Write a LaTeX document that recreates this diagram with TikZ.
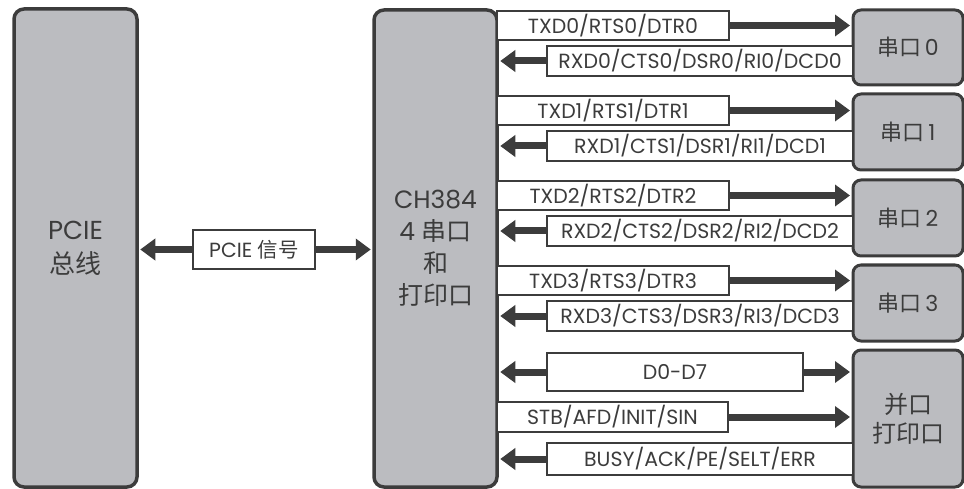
\documentclass[tikz,border=0pt]{standalone}
\usepackage{fontspec}
\setmainfont{Poppins}
\newfontfamily\cjk{Noto Sans CJK SC}
\usetikzlibrary{arrows.meta}
\definecolor{boxfill}{HTML}{BBBCC0}
\definecolor{ink}{HTML}{3C3C3C}
\tikzset{
  bigbox/.style={draw=ink, fill=boxfill, line width=3.5pt, rounded corners=10pt, text=ink, align=center, inner sep=0pt},
  portbox/.style={bigbox, line width=3pt, rounded corners=8pt, font=\fontsize{22}{28}\selectfont},
  sig/.style={draw=ink, line width=1.8pt, fill=white, inner sep=0pt, text=ink, font=\fontsize{20.5}{22}\selectfont},
  arr/.style={draw=ink, line width=7pt, -{Triangle[length=15pt,width=21pt]}, shorten >=1.5pt},
}
\begin{document}
\begin{tikzpicture}[x=1pt,y=-1pt]
\useasboundingbox (0,0) rectangle (964,489);
% main blocks
\node[bigbox, minimum width=123pt, minimum height=478pt, font=\fontsize{26}{34}\selectfont] (pcie) at (75.5,248) {PCIE\\{\cjk 总线}};
\node[bigbox, minimum width=123pt, minimum height=477pt, font=\fontsize{25}{32}\selectfont] (ch) at (435.5,248.5) {CH384\\4 {\cjk 串口}\\{\cjk 和}\\{\cjk 打印口}};
% ports
\node[portbox, minimum width=110pt, minimum height=75pt] (p0) at (908,47.5) {{\cjk 串口}\,0};
\node[portbox, minimum width=110pt, minimum height=76pt] (p1) at (908,132) {{\cjk 串口}\,1};
\node[portbox, minimum width=110pt, minimum height=76pt] (p2) at (908,218) {{\cjk 串口}\,2};
\node[portbox, minimum width=110pt, minimum height=76pt] (p3) at (908,303) {{\cjk 串口}\,3};
\node[portbox, minimum width=110pt, minimum height=137pt, font=\fontsize{24}{29}\selectfont] (pp) at (908,418.5) {{\cjk 并口}\\{\cjk 打印口}};
% PCIE signal
\node[sig, minimum width=122pt, minimum height=39pt] (ps) at (254,249.5) {PCIE {\cjk 信号}};
\draw[arr] (ps.west) -- (ps.west -| pcie.east);
\draw[arr] (ps.east) -- (ps.east -| ch.west);
% serial signals
\foreach \i/\ty/\ry in {0/25.5/61, 1/110.5/146, 2/195.5/231, 3/280.5/316}{
  \node[sig, minimum width=232pt, minimum height=29pt] (tx\i) at (613,\ty) {TXD\i/RTS\i/DTR\i};
  \node[sig, minimum width=306pt, minimum height=30pt] (rx\i) at (700,\ry) {RXD\i/CTS\i/DSR\i/RI\i/DCD\i};
  \draw[arr] (tx\i.east) -- (tx\i.east -| p\i.west);
  \draw[arr] (rx\i.west) -- (rx\i.west -| ch.east);
}
% parallel signals
\node[sig, minimum width=256pt, minimum height=38pt] (dd) at (675,372) {D0-D7};
\node[sig, minimum width=231pt, minimum height=30pt] (stb) at (612.5,417) {STB/AFD/INIT/SIN};
\node[sig, minimum width=306pt, minimum height=32pt] (busy) at (700,459) {BUSY/ACK/PE/SELT/ERR};
\draw[arr] (dd.west) -- (dd.west -| ch.east);
\draw[arr] (dd.east) -- (dd.east -| pp.west);
\draw[arr] (stb.east) -- (stb.east -| pp.west);
\draw[arr] (busy.west) -- (busy.west -| ch.east);
\end{tikzpicture}
\end{document}
